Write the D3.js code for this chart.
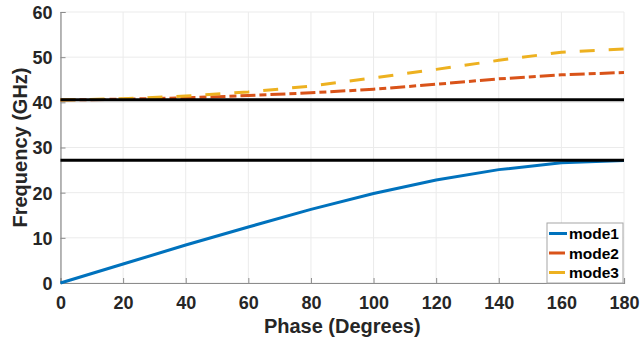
<!DOCTYPE html>
<html>
<head>
<meta charset="utf-8">
<script src="https://cdn.jsdelivr.net/npm/d3@7"></script>
<style>
  body { margin: 0; background: #fff; }
  svg { display: block; font-family: "Liberation Sans", Arial, sans-serif; }
</style>
</head>
<body>
<div id="chart"></div>
<script>
const phase = [0, 20, 40, 60, 80, 100, 120, 140, 160, 180]
const mode1 = [0, 4.2, 8.4, 12.4, 16.3, 19.8, 22.8, 25.1, 26.6, 27.1]
const mode2 = [40.5, 40.7, 41.0, 41.5, 42.1, 42.9, 44.0, 45.2, 46.1, 46.6]
const mode3 = [40.5, 40.8, 41.4, 42.3, 43.6, 45.4, 47.3, 49.3, 51.1, 51.8]
const bandEdges = [40.55, 27.15]
const xTicks = [0, 20, 40, 60, 80, 100, 120, 140, 160, 180]
const yTicks = [0, 10, 20, 30, 40, 50, 60]
const seriesNames = ["mode1", "mode2", "mode3"]

const width = 641, height = 347
const margin = { top: 12, right: 17, bottom: 64, left: 60.5 }

const x = d3.scaleLinear().domain([0, 180]).range([margin.left, width - margin.right])
const y = d3.scaleLinear().domain([0, 60]).range([height - margin.bottom, margin.top])

const series = [
  { name: seriesNames[0], values: mode1, color: "#0072BD", dash: null },
  { name: seriesNames[1], values: mode2, color: "#D95319", dash: "15,4,7,4" },
  { name: seriesNames[2], values: mode3, color: "#EDB120", dash: "15,14" }
]

const svg = d3.select("#chart").append("svg")
  .attr("width", width)
  .attr("height", height)

// grid
svg.append("g")
  .selectAll("line")
  .data(xTicks)
  .join("line")
  .attr("x1", d => x(d)).attr("x2", d => x(d))
  .attr("y1", y(0)).attr("y2", y(60))
  .attr("stroke", "#ebebeb").attr("stroke-width", 1)

svg.append("g")
  .selectAll("line")
  .data(yTicks)
  .join("line")
  .attr("x1", x(0)).attr("x2", x(180))
  .attr("y1", d => y(d)).attr("y2", d => y(d))
  .attr("stroke", "#ebebeb").attr("stroke-width", 1)

// axes (ticks point inward like matlab)
const xAxis = svg.append("g")
  .attr("transform", `translate(0,${y(0)})`)
  .call(d3.axisBottom(x).tickValues(xTicks).tickSize(-5).tickPadding(13).tickFormat(d3.format("d")))
const yAxis = svg.append("g")
  .attr("transform", `translate(${x(0)},0)`)
  .call(d3.axisLeft(y).tickValues(yTicks).tickSize(-5).tickPadding(8).tickFormat(d3.format("d")))

for (const ax of [xAxis, yAxis]) {
  ax.select(".domain").attr("stroke", "#8c8c8c").attr("stroke-width", 1.2)
  ax.selectAll(".tick line").attr("stroke", "#8c8c8c")
  ax.selectAll(".tick text")
    .attr("fill", "#262626")
    .style("font-size", "18px")
    .style("font-weight", "bold")
    .style("font-family", "'Liberation Sans', Arial, sans-serif")
}
yAxis.selectAll(".tick text").attr("dy", "0.36em")

// curves
const line = d3.line()
  .x((d, i) => x(phase[i]))
  .y(d => y(d))

svg.append("g")
  .selectAll("path")
  .data(series)
  .join("path")
  .attr("d", d => line(d.values))
  .attr("fill", "none")
  .attr("stroke", d => d.color)
  .attr("stroke-width", 3)
  .attr("stroke-dasharray", d => d.dash)

// band edge lines
svg.append("g")
  .selectAll("line")
  .data(bandEdges)
  .join("line")
  .attr("x1", x(0)).attr("x2", x(180))
  .attr("y1", d => y(d)).attr("y2", d => y(d))
  .attr("stroke", "#000").attr("stroke-width", 3)

// axis labels
svg.append("text")
  .attr("x", (x(0) + x(180)) / 2)
  .attr("y", 333)
  .attr("text-anchor", "middle")
  .attr("fill", "#262626")
  .style("font-size", "20px")
  .style("font-weight", "bold")
  .text("Phase (Degrees)")

svg.append("text")
  .attr("transform", `translate(27,${(y(0) + y(60)) / 2}) rotate(-90)`)
  .attr("text-anchor", "middle")
  .attr("fill", "#262626")
  .style("font-size", "20px")
  .style("font-weight", "bold")
  .text("Frequency (GHz)")

// legend
const lg = svg.append("g").attr("transform", "translate(547,223)")
lg.append("rect")
  .attr("width", 76).attr("height", 60)
  .attr("fill", "#fff")
  .attr("stroke", "#a6a6a6").attr("stroke-width", 1)

const rows = lg.selectAll("g.row")
  .data(series)
  .join("g")
  .attr("class", "row")
  .attr("transform", (d, i) => `translate(0,${10.5 + i * 19.5})`)

// legend samples are short enough to look solid
rows.append("line")
  .attr("x1", 2).attr("x2", d => d.dash ? 18 : 20)
  .attr("stroke", d => d.color)
  .attr("stroke-width", 3)

rows.append("text")
  .attr("x", 22)
  .attr("dy", "0.36em")
  .attr("fill", "#000")
  .style("font-size", "15.5px")
  .style("font-weight", "bold")
  .text(d => d.name)
</script>
</body>
</html>
